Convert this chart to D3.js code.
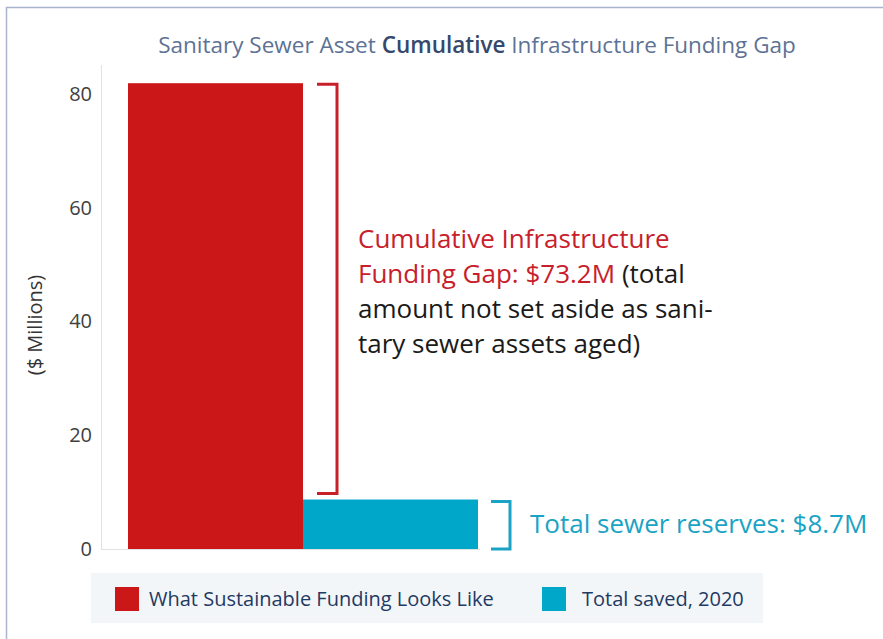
<!DOCTYPE html>
<html>
<head>
<meta charset="utf-8">
<script src="https://cdn.jsdelivr.net/npm/d3@7"></script>
<style>
  body { margin: 0; background: #fff; }
  svg { display: block; font-family: "Open Sans", sans-serif; }
</style>
</head>
<body>
<div id="chart"></div>
<script>
// Data
var categories = ["What Sustainable Funding Looks Like", "Total saved, 2020"];
var values = [81.9, 8.7];
var colors = ["#cc1719", "#00a7c9"];
var yTicks = [0, 20, 40, 60, 80];
var gapLabel = "$73.2M";
var reserveLabel = "$8.7M";

var width = 883, height = 639;

var svg = d3.select("#chart")
  .append("svg")
    .attr("width", width)
    .attr("height", height);

// Frame (top and left only)
svg.append("path")
  .attr("d", "M6.5,639 V7.5 H883")
  .attr("fill", "none")
  .attr("stroke", "#a8b5cd")
  .attr("stroke-width", 1.5);

// Title
var title = svg.append("text")
  .attr("x", 477)
  .attr("y", 53)
  .attr("text-anchor", "middle")
  .attr("font-size", "22.5px")
  .attr("fill", "#5d7294");
title.append("tspan").text("Sanitary Sewer Asset ");
title.append("tspan").attr("fill", "#34496b").attr("font-weight", 600).text("Cumulative");
title.append("tspan").text(" Infrastructure Funding Gap");

// Scales
var x = d3.scaleBand()
  .domain(categories)
  .range([128, 478])
  .padding(0);

var y = d3.scaleLinear()
  .domain([0, 80])
  .range([549, 94]);

// Y axis
var yAxis = svg.append("g")
  .attr("transform", "translate(101,0)")
  .call(d3.axisLeft(y).tickValues(yTicks).tickSize(0).tickPadding(9));
yAxis.select(".domain").remove();
yAxis.selectAll("text")
  .attr("font-size", "20px")
  .attr("font-family", "Open Sans, sans-serif")
  .attr("fill", "#404040");

svg.append("line")
  .attr("x1", 101.5).attr("x2", 101.5)
  .attr("y1", 65).attr("y2", y(0))
  .attr("stroke", "#e2e2e2");
svg.append("line")
  .attr("x1", 101).attr("x2", x.range()[1] + 2)
  .attr("y1", y(0) + 0.5).attr("y2", y(0) + 0.5)
  .attr("stroke", "#e2e2e2");

// Y axis label
svg.append("text")
  .attr("transform", "translate(42,325) rotate(-90)")
  .attr("text-anchor", "middle")
  .attr("font-size", "20px")
  .attr("fill", "#333")
  .text("($ Millions)");

// Bars
svg.selectAll("rect.bar")
  .data(values)
  .enter()
  .append("rect")
    .attr("class", "bar")
    .attr("x", function(d, i) { return x(categories[i]); })
    .attr("y", function(d) { return y(d); })
    .attr("width", x.bandwidth())
    .attr("height", function(d) { return y(0) - y(d); })
    .attr("fill", function(d, i) { return colors[i]; });

// Red bracket (funding gap)
var bx = x(categories[0]) + x.bandwidth() + 34;
svg.append("path")
  .attr("d", "M" + (bx - 20) + "," + (y(values[0]) + 1) +
             " H" + bx + " V" + (y(values[1]) - 6) + " H" + (bx - 20))
  .attr("fill", "none")
  .attr("stroke", "#c8202b")
  .attr("stroke-width", 3);

// Teal bracket (reserves)
var tx = x(categories[1]) + x.bandwidth() + 32;
svg.append("path")
  .attr("d", "M" + (tx - 19) + "," + (y(values[1]) + 2) +
             " H" + tx + " V" + y(0) + " H" + (tx - 19))
  .attr("fill", "none")
  .attr("stroke", "#1aa3c4")
  .attr("stroke-width", 3);

// Gap annotation
var red = "#c8202b", dark = "#1a1a1a";
var lines = [
  [["Cumulative Infrastructure", red]],
  [["Funding Gap: " + gapLabel, red], [" (total", dark]],
  [["amount not set aside as sani-", dark]],
  [["tary sewer assets aged)", dark]]
];
var note = svg.append("text")
  .attr("x", 358)
  .attr("y", 248)
  .attr("font-size", "26px");
lines.forEach(function(line, i) {
  line.forEach(function(part, j) {
    var t = note.append("tspan").attr("fill", part[1]).text(part[0]);
    if (j === 0) t.attr("x", 358).attr("dy", i === 0 ? 0 : 35);
  });
});

svg.append("text")
  .attr("x", 530)
  .attr("y", 533)
  .attr("font-size", "26px")
  .attr("fill", "#1aa3c4")
  .text("Total sewer reserves: " + reserveLabel);

// Legend
svg.append("rect")
  .attr("x", 91).attr("y", 573)
  .attr("width", 672).attr("height", 50)
  .attr("fill", "#f3f6f8");

var legendX = [115, 542];
var legend = svg.selectAll("g.legend")
  .data(categories)
  .enter()
  .append("g")
    .attr("class", "legend")
    .attr("transform", function(d, i) { return "translate(" + legendX[i] + ",587)"; });
legend.append("rect")
  .attr("width", 24).attr("height", 24)
  .attr("fill", function(d, i) { return colors[i]; });
legend.append("text")
  .attr("x", function(d, i) { return i === 0 ? 34 : 40; })
  .attr("y", 19)
  .attr("font-size", "20px")
  .attr("fill", "#1f3a63")
  .text(function(d) { return d; });
</script>
</body>
</html>
